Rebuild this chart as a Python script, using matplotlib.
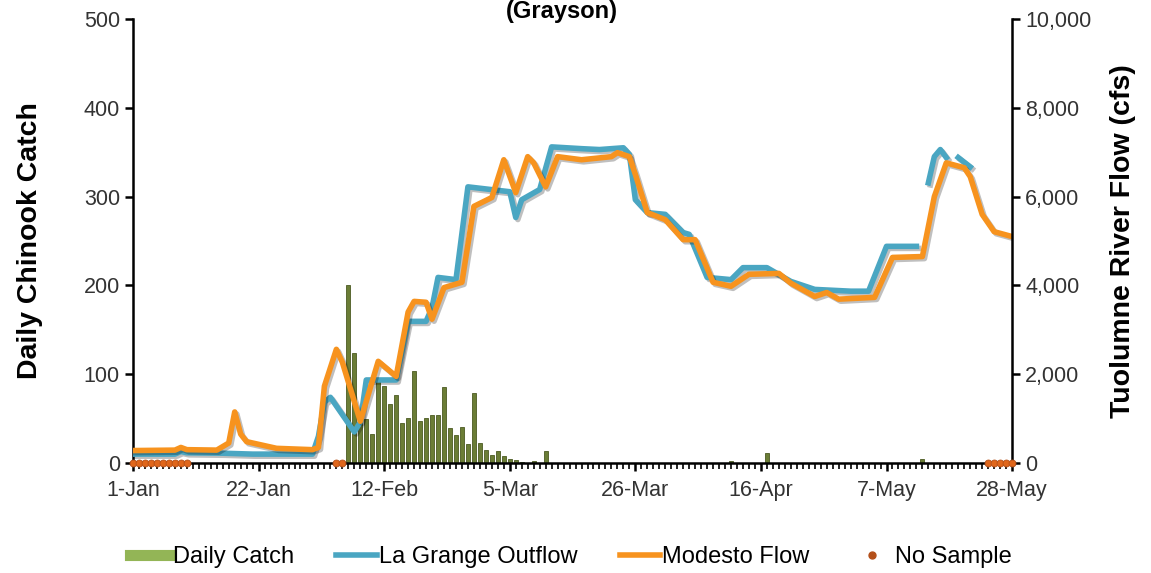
import numpy as np
import matplotlib.pyplot as plt
import matplotlib.patheffects as pe
from matplotlib.lines import Line2D
from matplotlib.ticker import FuncFormatter, MultipleLocator

plt.rcParams['font.family'] = ['Liberation Sans', 'DejaVu Sans']

# x axis: days since 1-Jan
tick_days = [0, 21, 42, 63, 84, 105, 126, 147]
tick_labels = ['1-Jan', '22-Jan', '12-Feb', '5-Mar', '26-Mar', '16-Apr', '7-May', '28-May']

# daily catch (left axis)
catch_days = list(range(36, 70)) + [100, 106, 132]
catch = [201, 124, 45, 50, 33, 92, 87, 66, 77, 45,
         51, 104, 47, 51, 54, 54, 86, 39, 32, 40,
         21, 79, 22, 15, 9, 14, 8, 5, 3, 1,
         0, 2, 0, 14,
         2, 11, 4]

# days with no sample
no_sample_days = list(range(0, 10)) + [34, 35] + list(range(143, 148))

# La Grange outflow (cfs), nan = missing
lagrange_days = [0, 7, 8, 9, 15, 20, 30, 31, 32, 33, 37, 38, 39, 44, 46, 49, 50, 51,
                 54, 56, 63, 64, 65, 68, 70, 75, 78, 82, 83, 84, 86, 89, 92, 93,
                 96, 100, 102, 106, 110, 114, 120, 123, 126, 131, 132, 133, 134,
                 135, 136, 137, 138, 140]
lagrange = [200, 200, 260, 230, 220, 200, 200, 600, 1370, 1480, 700, 920, 1870, 1870,
            3190, 3190, 3500, 4180, 4130, 6220, 6110, 5530, 5930, 6160, 7120, 7080,
            7060, 7100, 6950, 5930, 5640, 5600, 5190, 5150, 4180, 4130, 4400, 4400,
            4090, 3910, 3870, 3870, 4880, 4880, np.nan, 6310, 6900, 7060, 6880,
            np.nan, 6880, 6670]

# Modesto flow (cfs)
modesto_days = [0, 7, 8, 9, 14, 16, 17, 18, 19, 21, 24, 30, 31, 32, 34, 35, 38, 41,
                44, 46, 47, 49, 50, 52, 55, 57, 60, 62, 64, 66, 67, 69, 71, 75, 80,
                81, 83, 84, 86, 89, 92, 94, 97, 100, 103, 108, 110, 114, 116, 118,
                124, 127, 132, 134, 136, 139, 140, 142, 144, 147]
modesto = [280, 290, 350, 300, 290, 450, 1150, 650, 480, 420, 330, 300, 350, 1730,
           2560, 2270, 940, 2290, 1950, 3400, 3640, 3620, 3240, 3950, 4070, 5780,
           5980, 6830, 6090, 6900, 6760, 6220, 6900, 6830, 6900, 6990, 6900, 6500,
           5640, 5480, 5030, 5030, 4070, 3980, 4250, 4270, 4050, 3750, 3840, 3690,
           3730, 4630, 4650, 6000, 6760, 6650, 6450, 5600, 5210, 5100]

fig = plt.figure(figsize=(11.51, 5.73), dpi=100)
ax = fig.add_axes([0.1156, 0.192, 0.7637, 0.7748])
ax2 = ax.twinx()

ax.bar(catch_days, catch, width=0.68, color='#6b7d36', edgecolor='#4b5a22', linewidth=0.6)

shadow = [pe.SimpleLineShadow(offset=(1.5, -1.5), alpha=0.25), pe.Normal()]
ax2.plot(lagrange_days, lagrange, color='#4aa6c2', lw=4, solid_joinstyle='round',
         path_effects=shadow)
ax2.plot(modesto_days, modesto, color='#f7931e', lw=4, solid_joinstyle='round',
         path_effects=shadow)
ax2.plot(no_sample_days, [0] * len(no_sample_days), 'o', color='#e0671c', ms=5,
         mec='#b4501a', mew=0.6, clip_on=False, zorder=5)

ax.set_xlim(0, 147)
ax.set_ylim(0, 500)
ax2.set_ylim(0, 10000)

ax.set_xticks(tick_days)
ax.set_xticklabels(tick_labels)
ax.xaxis.set_minor_locator(MultipleLocator(1))
ax.set_yticks(range(0, 501, 100))
ax2.set_yticks(range(0, 10001, 2000))
ax2.yaxis.set_major_formatter(FuncFormatter(lambda v, p: f'{int(v):,}'))

for a in (ax, ax2):
    a.spines['top'].set_visible(False)
    for s in a.spines.values():
        s.set_linewidth(1.8)
    a.tick_params(which='major', length=6, width=1.8, labelsize=15.5,
                  labelcolor='#333333', direction='out')
    a.tick_params(which='minor', length=4, width=1.2, direction='out')
ax2.spines['left'].set_visible(False)
ax2.spines['bottom'].set_visible(False)
ax.spines['right'].set_visible(False)
ax.tick_params(axis='x', pad=6)

ax.set_ylabel('Daily Chinook Catch', fontsize=20.5, fontweight='bold')
ax2.set_ylabel('Tuolumne River Flow (cfs)', fontsize=20.5, fontweight='bold')
ax.yaxis.set_label_coords(-0.102, 0.5)
ax2.yaxis.set_label_coords(1.111, 0.5)

fig.text(0.488, 1.0, '(Grayson)', ha='center', va='top',
         fontsize=17, fontweight='bold')

handles = [Line2D([], [], color='#93b556', lw=8),
           Line2D([], [], color='#4aa6c2', lw=4),
           Line2D([], [], color='#f7931e', lw=4),
           Line2D([], [], ls='none', marker='o', color='#b4501a', ms=5)]
fig.legend(handles, ['Daily Catch', 'La Grange Outflow', 'Modesto Flow', 'No Sample'],
           loc='center', bbox_to_anchor=(0.496, 0.028), ncol=4, frameon=False,
           fontsize=17, handlelength=1.7, handletextpad=0.1, columnspacing=1.8)

fig.savefig('out.png', dpi=100)
